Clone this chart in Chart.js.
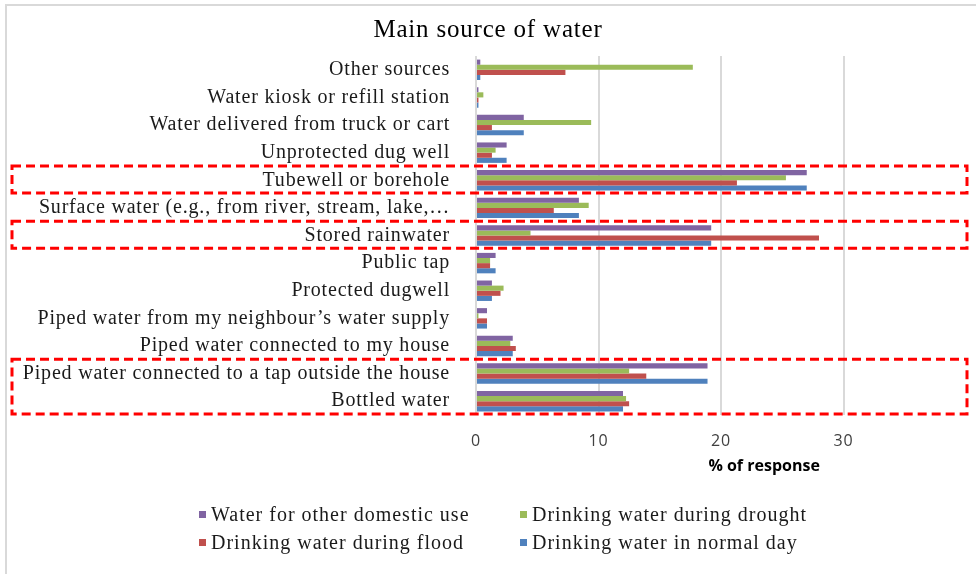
<!DOCTYPE html>
<html>
<head>
<meta charset="utf-8">
<script src="https://cdn.jsdelivr.net/npm/chart.js@4/dist/chart.umd.min.js"></script>
<style>
    body { margin: 0; background: #fff; }
    #wrap { position: relative; width: 976px; height: 574px; }
    #frame { position: absolute; left: 5px; top: 4px; right: 0; bottom: 0; border-top: 2px solid #d9d9d9; border-left: 2px solid #d9d9d9; pointer-events: none; }
    .leg { position: absolute; font-family: "Liberation Serif", "Times New Roman", serif; font-size: 20px; letter-spacing: 1px; color: #1a1a1a; white-space: nowrap; line-height: 22px; }
    .leg i { display: inline-block; width: 7px; height: 7px; margin-right: 5px; vertical-align: 3px; }
</style>
</head>
<body>
<div id="wrap">
    <canvas id="myChart" width="976" height="574"></canvas>
    <div id="frame"></div>
    <div id="legend"></div>
</div>
<script>
// categories, top to bottom
const categories = [
    "Other sources",
    "Water kiosk or refill station",
    "Water delivered from truck or cart",
    "Unprotected dug well",
    "Tubewell or borehole",
    "Surface water (e.g., from river, stream, lake,\u2026",
    "Stored rainwater",
    "Public tap",
    "Protected dugwell",
    "Piped water from my neighbour\u2019s water supply",
    "Piped water connected to my house",
    "Piped water connected to a tap outside the house",
    "Bottled water"
];

const otherDomestic = [0.35, 0.2, 3.9, 2.5, 27.0, 8.4, 19.2, 1.6, 1.3, 0.9, 3.0, 18.9, 12.0];
const duringDrought = [17.7, 0.6, 9.4, 1.6, 25.3, 9.2, 4.45, 1.15, 2.25, 0.2, 2.8, 12.5, 12.25];
const duringFlood = [7.3, 0.2, 1.3, 1.3, 21.3, 6.35, 28.0, 1.15, 2.0, 0.9, 3.25, 13.9, 12.5];
const normalDay = [0.35, 0.2, 3.9, 2.5, 27.0, 8.4, 19.2, 1.6, 1.3, 0.9, 3.0, 18.9, 12.0];

const seriesNames = [
    "Water for other domestic use",
    "Drinking water during drought",
    "Drinking water during flood",
    "Drinking water in normal day"
];
const seriesColors = ["#8064A2", "#9BBB59", "#C0504D", "#4F81BD"];

const xTicks = [0, 10, 20, 30];

// highlighted groups (first and last category index)
const highlights = [[4, 4], [6, 6], [11, 12]];

const serif = "'Liberation Serif', 'Times New Roman', serif";

const highlightPlugin = {
    id: 'highlightBoxes',
    beforeDraw(chart) {
        chart.ctx.letterSpacing = '0.8px'; // the original text is spaced out a bit
    },
    afterDraw(chart) {
        const ctx = chart.ctx;
        const y = chart.scales.y;
        const step = y.getPixelForValue(1) - y.getPixelForValue(0);
        ctx.save();
        ctx.strokeStyle = '#ff0000';
        ctx.lineWidth = 3;
        ctx.setLineDash([9, 5]);
        highlights.forEach(([a, b]) => {
            const top = y.getPixelForValue(a) - step * 0.52;
            const bottom = y.getPixelForValue(b) + step * 0.46;
            ctx.strokeRect(12, top, 955, bottom - top);
        });
        ctx.restore();

        // axis title
        const area = chart.chartArea;
        ctx.save();
        ctx.letterSpacing = '0px';
        ctx.font = "bold 16px 'Open Sans', 'Liberation Sans', sans-serif";
        ctx.fillStyle = '#000';
        ctx.textAlign = 'center';
        ctx.textBaseline = 'middle';
        ctx.fillText('% of response', area.left + (area.right - area.left) * 0.588, 466);
        ctx.restore();
    }
};

const datasets = [otherDomestic, duringDrought, duringFlood, normalDay].map((d, i) => ({
    label: seriesNames[i],
    data: d,
    backgroundColor: seriesColors[i],
    borderWidth: 0,
    categoryPercentage: 0.74,
    barPercentage: 1.0
}));

const ctx = document.getElementById('myChart').getContext('2d');
const myChart = new Chart(ctx, {
    type: 'bar',
    data: { labels: categories, datasets },
    plugins: [highlightPlugin],
    options: {
        indexAxis: 'y',
        responsive: false,
        animation: false,
        layout: { padding: { left: 10, right: 10, top: 0, bottom: 0 } },
        plugins: {
            legend: { display: false },
            tooltip: { enabled: false },
            title: {
                display: true,
                text: 'Main source of water',
                color: '#000',
                font: { family: serif, size: 25, weight: 'normal' },
                padding: { top: 15, bottom: 11 }
            }
        },
        scales: {
            x: {
                min: 0,
                max: 40,
                afterBuildTicks: (scale) => {
                    scale.ticks = xTicks.concat([40]).map(v => ({ value: v }));
                },
                afterFit: (scale) => {
                    scale.height = 159;
                    scale.paddingLeft = 0;
                    scale.paddingRight = 0;
                },
                ticks: {
                    padding: 17,
                    color: '#404040',
                    font: { family: "'Open Sans', 'Liberation Sans', sans-serif", size: 16 },
                    callback: (v) => xTicks.includes(v) ? String(v) : ''
                },
                grid: {
                    drawTicks: false,
                    lineWidth: 2,
                    color: (c) => (c.tick && c.tick.value === 40) ? 'rgba(0,0,0,0)' : '#d9d9d9'
                },
                border: { display: false }
            },
            y: {
                afterFit: (scale) => { scale.width = 466; },
                ticks: {
                    padding: 18,
                    color: '#1a1a1a',
                    autoSkip: false,
                    font: { family: serif, size: 20 }
                },
                grid: { display: false },
                border: { display: false }
            }
        }
    }
});

// legend, two columns like the original
const legend = document.getElementById('legend');
const legendPos = [[199, 503], [520, 503], [199, 531], [520, 531]];
seriesNames.forEach((name, i) => {
    const div = document.createElement('div');
    div.className = 'leg';
    div.style.left = legendPos[i][0] + 'px';
    div.style.top = legendPos[i][1] + 'px';
    div.innerHTML = `<i style="background:${seriesColors[i]}"></i>${name}`;
    legend.appendChild(div);
});
</script>
</body>
</html>
